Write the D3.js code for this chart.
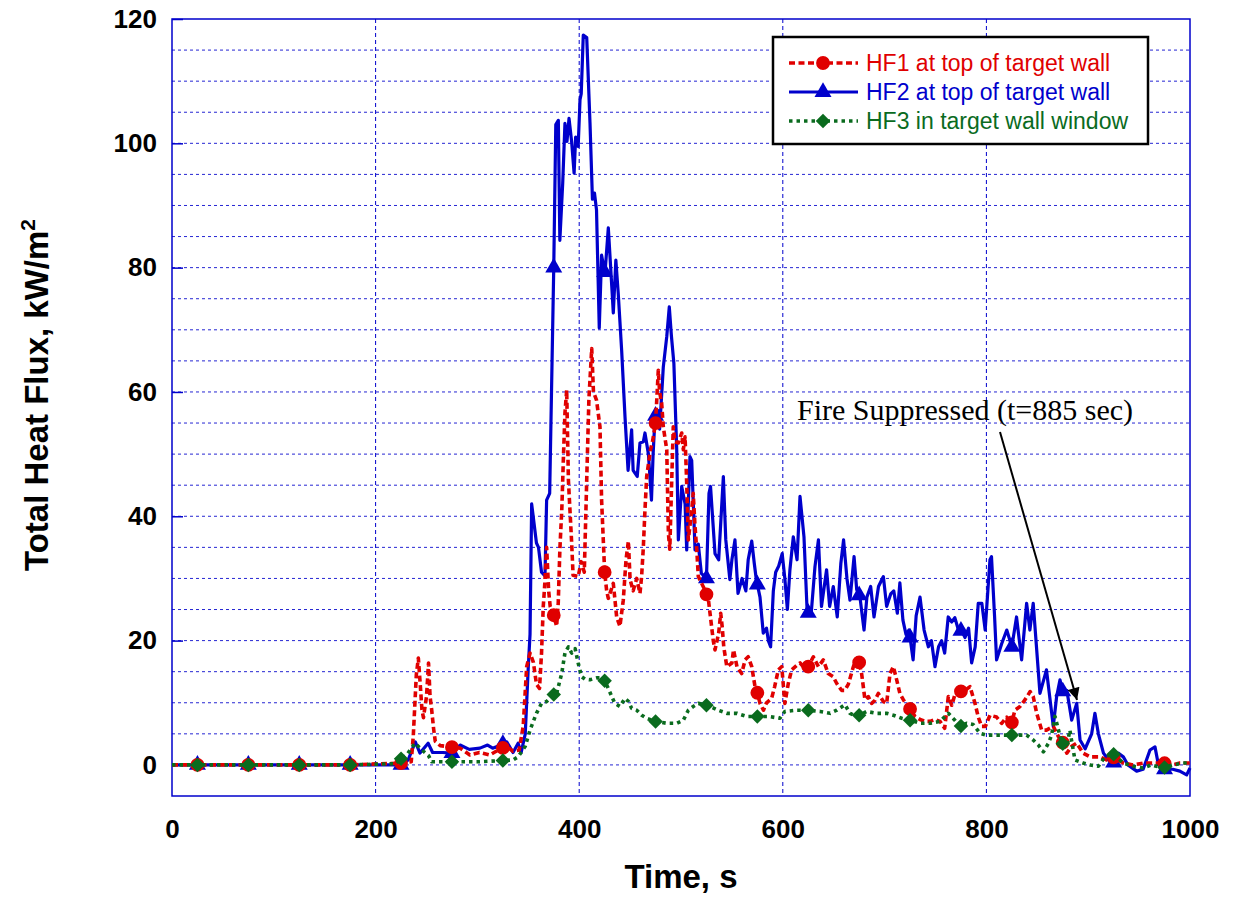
<!DOCTYPE html>
<html>
<head>
<meta charset="utf-8">
<script src="https://cdn.jsdelivr.net/npm/d3@7"></script>
<style>
body { margin: 0; background: #fff; }
</style>
</head>
<body>
<div id="chart"></div>
<script>
// HF1 at top of target wall (red, dashed)
var hf1Time = [0,25,75,125,175,225,235,237,240,242,244,245.5,247,250,252,253.5,255,257,258.6,263.5,273,283,292.6,302,312,318.5,328.3,335,341,345,348.4,351.7,355,358,361,363,364.7,366,368,370,371.5,374.5,377.8,379.4,381,383,384.4,386,387.7,389.4,392.6,394,399,402,405,407.3,409.5,412.3,414,417,420.4,422,425,427,428.6,433.5,436.8,440,443.3,446,448.3,450,453,456.5,459.7,461.3,463,464.6,466.3,470,472,475,477.7,479,481,482.6,486,487.6,489,490.8,492.4,494,497.4,500.7,502.3,504,505.6,507.2,510.5,512,513.8,515.5,517,523.6,527,528.5,531.7,533.4,537,539,540.6,542,545,550,551.6,555,559.6,563,566,569.5,572.7,574.4,577.6,581,584,589,592,595.6,599,602,605.4,608.7,613.6,617,621.8,625,630,635,639.8,644.6,649.5,653,657.7,661,664.4,669.3,672.6,674.2,677.5,680.7,684,687.3,690.6,693.8,698.8,702,705.3,708.6,712,715,718.4,721.7,725,730,734.8,739.7,744.6,749.5,754.5,759,762.6,766,769,774,779,783.9,788.8,792,795.3,799,803.5,810,815,820,824,828,833,838,843,846,849.4,854.3,859,865.7,870.6,874,879,883.8,888.7,895,901.8,911.5,918,925,934.5,944,954,964,973.8,983.6,990,998,1000];
var hf1Flux = [0,0,0,0,0,0.3,0.5,4.6,14.5,17.2,12.6,8.9,7.6,11,16.4,11,9,5.8,3.8,3.1,2.9,2.7,1.6,2,1.6,2.2,3,2.2,2.4,6.2,15.8,18,16.5,13,12.3,18,25.5,28.6,35,28,25.5,24.4,22.3,26,34.6,41.5,49,56.6,60.3,45.8,35.7,30.5,30.3,32.7,31,45.3,58.7,67,60,58.7,54.4,42.6,31,28,26.8,29.2,23.8,22.3,26.5,33,36,29.8,28,30,27.6,30.3,35,41,46.4,50.7,52,55,63.5,60,58.2,54.4,50.7,37.3,34.7,45.3,54.4,52,51.8,53.4,50.7,52.8,45.3,36.2,41,43.7,38.3,34.6,30.3,28.1,26.5,24.4,20,18.5,21.2,24.4,22,19,15.8,16.4,18.5,15.8,14.7,16.9,17.4,15.8,12.6,12,9.9,8.8,10,10.7,12.6,15.3,15.8,9.9,13.1,15.3,16,16.4,15.5,15.8,17.4,15.8,16.9,14.7,14.2,13.1,12,12,13,15.8,17.1,17.1,14.6,10.5,11,9.9,10.4,11.5,10.2,9.9,14.7,15.8,13.6,11.5,10.5,9.7,9,7.8,7.3,7,7,7.3,7,5.9,11,9.6,11.3,11.8,12,12.6,9.9,7.7,6.2,6.2,8,7.7,6.7,7.7,6.2,8.8,9.4,10.5,11.8,11,8.3,5.6,5.6,6.2,4.6,4,1.9,3,3.5,1.9,1.3,1.3,0.8,1.2,0.3,0,0.3,0.3,0.3,0,0.3,0.3,0.3];

// HF2 at top of target wall (blue, solid)
var hf2Time = [0,25,75,125,175,225,232,239,243.6,251.6,256,266,275,283,292,302.5,310,315,323,328.8,335,340,343,347,350,351.7,353.3,358,360,363,366.4,368,371,375,377,379.5,381,383.8,386,388,390,392.5,395,396.5,399,400.8,402,404,407.4,410.6,413,415,417,419.7,422,425.3,428.6,432,433.5,436,438.3,441.7,445,448,451.5,453,457,459.7,463,464.6,468,471,472.6,474.5,477.7,479,482.6,486,488.5,490.6,493,495.8,497.4,500.7,504,505.6,508.8,510.5,513.8,517,520,525,527.5,529,533.4,537,541.6,544,548,550,553,556,560,563.7,566,569.5,572,574,577.6,580.8,584,585.8,588,590.7,593,596,599.4,602,604.5,607,610.3,614,616.9,620.8,624,628,631.6,635,638,643,646,649.6,653.5,657,659.7,663,666,670,672.6,675.8,679.8,682.6,686.3,689.6,694,698.8,702,706,709,712.5,715,718,721,724,728,731,734.8,738.8,743,746,749.5,753,756,759,762.5,766,769,772.5,776,779,782.5,785.5,789,792,795.5,798.8,803.5,805,808,810,815,820,825,829.6,834.6,839.5,842.7,846,852.6,859,865.7,869,872.3,875.6,879,883.8,888.7,892,897,903.4,906.6,910,915,920,924.5,929.5,934.5,939,947.6,954,960.7,965.6,969,975,983,990,996.7,1000];
var hf2Flux = [0,0,0,0,0,0,0.8,3.7,1.9,3.5,2,2,1.9,3.2,2.5,2.7,3.2,2.7,3.2,3.7,2,3.5,2,5,15.8,21,42,35.7,35,31,30.4,42.6,43.7,80,103,103.7,84.4,93.6,103.2,100.3,104,100.4,95.2,101,99.5,107,108,117.4,117,103.3,91,92,89.3,70.3,82,79,86.4,77,72.7,81.2,76,66.7,56,47.4,53.9,47.4,46.4,51.8,52,53.4,50,42.6,50,56,57,54,64,68.9,73.7,69,64.6,50.7,36.2,44.8,42,34.6,49.6,49,34.6,35.5,30.8,30,43.7,44.8,34,33,46.4,36.2,29.8,33,36.2,27.6,30,28,33,36,32.4,29.8,27,21.2,22,20,19,28,31,32,34,30,25,31.4,36.7,33,43.2,36.7,24.4,24.6,31.9,36.2,25.5,31.4,25.5,28.7,23.8,32.4,36.2,30,26.5,33.5,28.2,27,21.7,27,28.7,23.8,28.7,30.3,25.5,27.5,28,24.4,29.3,23.3,21,21.7,16.9,24,27,21.7,19,20,15.8,19,20,18,23.8,23,23.7,21.7,21.5,20.5,22,16.4,19,26,26,21.7,33,33.5,24,16.9,19.5,21.7,19,23.8,16.9,26,21.7,26,11.5,15.3,6.2,11,13.7,11.4,12,7.2,9.9,4,2.6,5,8.3,5,1.9,0.8,0.2,1.9,1.3,0,-1,-0.7,2.4,2.9,0,-0.7,-0.7,-1,-1.6,-0.5];

// HF3 in target wall window (green, dotted)
var hf3Time = [0,25,75,125,175,220,225,230.5,238.7,247,252,255,266,275,300,325,335,340,347,351.7,358,363,368,374.5,377.8,382.8,386,389.4,392.6,396,399,402.4,405.7,410.6,417,423.6,428.6,432,435,440,445,448.5,451.5,456.5,461.4,466.3,474.5,486,495.8,502.3,507.2,512,517,523.6,530,536.7,545,555,564.5,574.4,585.8,597.2,602,613.6,623.5,636.7,646.4,653,661,666,672.6,682.4,692,702,708.6,716.8,725,734.8,744.6,754.4,762.6,769,774,780.5,787,793.7,800,810,824,831,839.5,846,851,856,861,864,867.4,871,874,879,882,883.8,887,895,902,910,916.5,924.5,934.5,944,954,962,973.5,983.6,993,1000];
var hf3Flux = [0,0,0,0,0,0.2,1,1.6,3.5,2.2,1.5,0.5,0.5,0.5,0.5,0.7,0.8,1.3,3,5.6,8.3,9.9,10.2,11.3,11.5,14.7,18,19,18,18.7,16.4,14.2,13.8,13.7,14,14,12.3,11,9.9,9.4,10.7,10.2,9.1,8.8,8,7.5,7,6.7,6.7,7.2,8.8,9.4,9.9,9.7,9.3,8.8,8.3,8.3,7.8,7.8,7.8,7.5,8.6,8.8,8.8,8.6,8.3,8.8,9.7,8.3,7.8,8.6,8.3,8.3,8,7.5,7.2,6.7,6.7,7,8.3,7.2,6.2,6.7,6.5,5.1,4.8,4.8,4.8,4.8,4.8,4,3.2,2.1,3.5,4.8,7.8,5.5,3.5,3,5.6,3.8,0.8,0.3,0,-0.2,1.3,1.8,0.3,-0.2,-0.5,0,-0.5,0,0.3,0.3];

var markerTimes = [25,75,125,175,225,275,325,375,425,475,525,575,625,675,725,775,825,875,925,975];
var xTickValues = [0,200,400,600,800,1000];
var yTickValues = [0,20,40,60,80,100,120];
var xGridValues = [200,400,600,800];
var seriesNames = ['HF1 at top of target wall', 'HF2 at top of target wall', 'HF3 in target wall window'];

var red = '#e00000', blue = '#0000cc', green = '#0a6b1e', gridBlue = '#0000cc';

var svg = d3.select('#chart').append('svg')
	.attr('width', 1233)
	.attr('height', 921)
	.style('font-family', 'Liberation Sans, Arial, sans-serif');

var x = d3.scaleLinear().domain([0, 1000]).range([172, 1190]);
var y = d3.scaleLinear().domain([-5, 120]).range([796, 19]);

// gridlines
svg.append('g').selectAll('line').data(d3.range(0, 120, 5))
	.enter().append('line')
	.attr('x1', 172).attr('x2', 1190)
	.attr('y1', function(d) { return y(d); })
	.attr('y2', function(d) { return y(d); })
	.style('stroke', gridBlue).style('stroke-width', 1)
	.style('stroke-dasharray', '3,3').style('opacity', 0.85);

svg.append('g').selectAll('line').data(xGridValues)
	.enter().append('line')
	.attr('x1', function(d) { return x(d); })
	.attr('x2', function(d) { return x(d); })
	.attr('y1', 19).attr('y2', 796)
	.style('stroke', gridBlue).style('stroke-width', 1)
	.style('stroke-dasharray', '4,3');

// axes
var yaxis = d3.axisLeft(y).tickValues(yTickValues).tickSize(-11).tickPadding(15);
var yguide = svg.append('g').attr('transform', 'translate(172,0)');
yaxis(yguide);
yguide.select('.domain').remove();
yguide.selectAll('line').style('stroke', gridBlue).style('stroke-width', 1.5);
yguide.selectAll('text').style('font-size', '26px').style('font-weight', 'bold')
	.style('font-family', 'Liberation Sans, Arial, sans-serif').attr('fill', '#000');

var xaxis = d3.axisBottom(x).tickValues(xTickValues).tickFormat(d3.format('d')).tickSize(0).tickPadding(24);
var xguide = svg.append('g').attr('transform', 'translate(0,796)');
xaxis(xguide);
xguide.select('.domain').remove();
xguide.selectAll('text').style('font-size', '26px').style('font-weight', 'bold')
	.style('font-family', 'Liberation Sans, Arial, sans-serif').attr('fill', '#000');

// plot border
svg.append('rect')
	.attr('x', 172).attr('y', 19).attr('width', 1018).attr('height', 777)
	.style('fill', 'none').style('stroke', gridBlue).style('stroke-width', 1.5);

function valueAt(times, vals, t) {
	var i = d3.bisectLeft(times, t);
	if (i <= 0) return vals[0];
	if (i >= times.length) return vals[vals.length - 1];
	var t0 = times[i - 1], t1 = times[i];
	return vals[i - 1] + (vals[i] - vals[i - 1]) * (t - t0) / (t1 - t0);
}

var line = d3.line()
	.x(function(d) { return x(d[0]); })
	.y(function(d) { return y(d[1]); });

var series = [
	{time: hf2Time, flux: hf2Flux, color: blue, width: 3.2, dash: null, sym: d3.symbolTriangle, size: 125, rot: 0},
	{time: hf1Time, flux: hf1Flux, color: red, width: 3.6, dash: '6,3.5', sym: d3.symbolCircle, size: 150, rot: 0},
	{time: hf3Time, flux: hf3Flux, color: green, width: 3.6, dash: '3.5,4', sym: d3.symbolSquare, size: 105, rot: 45}
];

series.forEach(function(s) {
	var pts = s.time.map(function(t, i) { return [t, s.flux[i]]; });
	svg.append('path')
		.attr('d', line(pts))
		.style('fill', 'none')
		.style('stroke', s.color)
		.style('stroke-width', s.width)
		.style('stroke-linejoin', 'round')
		.style('stroke-dasharray', s.dash);
	svg.append('g').selectAll('path').data(markerTimes)
		.enter().append('path')
		.attr('d', d3.symbol().type(s.sym).size(s.size))
		.attr('transform', function(t) {
			return 'translate(' + x(t) + ',' + y(valueAt(s.time, s.flux, t)) + ') rotate(' + s.rot + ')';
		})
		.style('fill', s.color);
});

// legend
var legend = svg.append('g');
legend.append('rect')
	.attr('x', 773).attr('y', 37).attr('width', 375).attr('height', 107)
	.style('fill', '#fff').style('stroke', '#000').style('stroke-width', 2.5);
var legendItems = [
	{name: seriesNames[0], s: series[1]},
	{name: seriesNames[1], s: series[0]},
	{name: seriesNames[2], s: series[2]}
];
legendItems.forEach(function(item, i) {
	var ly = 63 + i * 29;
	legend.append('line')
		.attr('x1', 789).attr('x2', 858).attr('y1', ly).attr('y2', ly)
		.style('stroke', item.s.color).style('stroke-width', item.s.width)
		.style('stroke-dasharray', item.s.dash);
	legend.append('path')
		.attr('d', d3.symbol().type(item.s.sym).size(item.s.size))
		.attr('transform', 'translate(823,' + ly + ') rotate(' + item.s.rot + ')')
		.style('fill', item.s.color);
	legend.append('text')
		.attr('x', 866).attr('y', ly + 8)
		.style('font-size', '23px')
		.style('fill', item.s.color)
		.text(item.name);
});

// annotation
var defs = svg.append('defs');
defs.append('marker')
	.attr('id', 'arrow').attr('viewBox', '0 0 10 10')
	.attr('refX', 10).attr('refY', 5)
	.attr('markerWidth', 7).attr('markerHeight', 6)
	.attr('markerUnits', 'strokeWidth')
	.attr('orient', 'auto')
	.append('path').attr('d', 'M0,0 L10,5 L0,10 Z').style('fill', '#000');

svg.append('text')
	.attr('x', 797).attr('y', 420)
	.style('font-family', 'Liberation Serif, Times New Roman, serif')
	.style('font-size', '30px')
	.text('Fire Suppressed (t=885 sec)');

svg.append('line')
	.attr('x1', 1000).attr('y1', 432).attr('x2', 1077).attr('y2', 700)
	.style('stroke', '#000').style('stroke-width', 2)
	.attr('marker-end', 'url(#arrow)');

// axis titles
svg.append('text')
	.attr('x', 681).attr('y', 888)
	.attr('text-anchor', 'middle')
	.style('font-size', '33px').style('font-weight', 'bold')
	.text('Time, s');

var ytitle = svg.append('text')
	.attr('transform', 'translate(48,395) rotate(-90)')
	.attr('text-anchor', 'middle')
	.style('font-size', '33px').style('font-weight', 'bold');
ytitle.append('tspan').text('Total Heat Flux, kW/m');
ytitle.append('tspan').attr('dy', -13).style('font-size', '21px').text('2');
</script>
</body>
</html>
